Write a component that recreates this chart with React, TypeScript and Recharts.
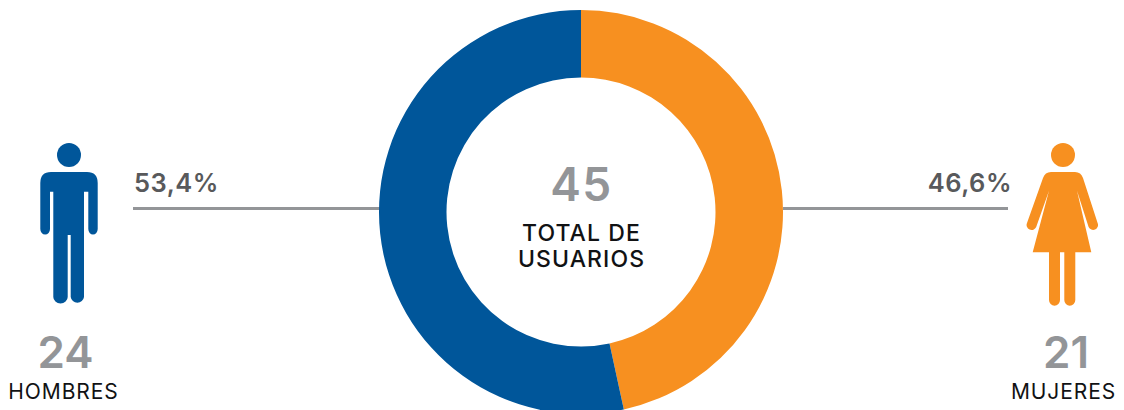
import { PieChart, Pie, Cell } from "recharts";

const genders = ["MUJERES", "HOMBRES"];
const shares = [46.6, 53.4];
const shareLabels = ["46,6%", "53,4%"];
const counts = [21, 24];
const total = 45;
const colors = ["#f79020", "#00569a"];

const FONT = "Inter, 'Open Sans', sans-serif";
const GREY = "#939598";
const DARK_GREY = "#58595b";
const BLACK = "#111214";

const slices = genders.map((name, i) => ({ name, value: shares[i] }));

const ManIcon = () => (
  <g fill={colors[1]}>
    <circle cx={69} cy={155} r={12} />
    <path d="M51 172 H87 Q97.7 172 97.7 183 V229 A4.7 5.5 0 0 1 88.3 229 V191.7 H84 V297 A6.7 6.5 0 0 1 70.7 297 V235 H67.7 V297 A7.2 6.5 0 0 1 53.3 297 V191.7 H50 V229 A4.85 5.5 0 0 1 40.3 229 V183 Q40.3 172 51 172 Z" />
  </g>
);

const WomanIcon = () => (
  <g fill={colors[0]}>
    <circle cx={1063} cy={155} r={12} />
    <path d="M1051 172 H1075 Q1081 172 1083 178 L1097.6 223 A4.8 4.8 0 0 1 1088.6 227 L1077 190.7 L1091.3 252.3 H1075.3 V300 A5.5 5.7 0 0 1 1064.3 300 V252.3 H1060 V300 A5.5 5.7 0 0 1 1049 300 V252.3 H1032.7 L1049 190.7 L1036.2 227 A4.8 4.8 0 0 1 1027 223 L1043 178 Q1045 172 1051 172 Z" />
  </g>
);

export default function App() {
  return (
    <div style={{ position: "absolute", left: 0, top: 0, background: "#fff" }}>
      <PieChart width={1124} height={410} margin={{ top: 0, right: 0, bottom: 0, left: 0 }}>
        <line x1={133} x2={380} y1={208.5} y2={208.5} stroke={GREY} strokeWidth={3} />
        <line x1={783} x2={1008} y1={208.5} y2={208.5} stroke={GREY} strokeWidth={3} />
        <Pie
          data={slices}
          dataKey="value"
          nameKey="name"
          cx={581}
          cy={212}
          innerRadius={134.5}
          outerRadius={202}
          startAngle={90}
          endAngle={-270}
          stroke="none"
          isAnimationActive={false}
        >
          {slices.map((s, i) => (
            <Cell key={s.name} fill={colors[i]} />
          ))}
        </Pie>

        <ManIcon />
        <WomanIcon />

        <g fontFamily={FONT}>
          <text x={134} y={192} fontSize={25.5} fontWeight={600} letterSpacing={0.5} fill={DARK_GREY}>{shareLabels[1]}</text>
          <text x={1012} y={192} fontSize={25.5} fontWeight={600} letterSpacing={0.5} textAnchor="end" fill={DARK_GREY}>{shareLabels[0]}</text>

          <text x={581.5} y={201} fontSize={46} fontWeight={600} letterSpacing={1.5} textAnchor="middle" fill={GREY}>{total}</text>
          <text x={581.5} y={241} fontSize={23} fontWeight={500} letterSpacing={1.1} textAnchor="middle" fill={BLACK}>TOTAL DE</text>
          <text x={581.5} y={267} fontSize={23} fontWeight={500} letterSpacing={1.1} textAnchor="middle" fill={BLACK}>USUARIOS</text>

          <text x={65.5} y={368} fontSize={44} fontWeight={600} textAnchor="middle" fill={GREY}>{counts[1]}</text>
          <text x={63.5} y={399} fontSize={21} fontWeight={400} letterSpacing={0.9} textAnchor="middle" fill={BLACK}>{genders[1]}</text>

          <text x={1066} y={368} fontSize={44} fontWeight={600} textAnchor="middle" fill={GREY}>{counts[0]}</text>
          <text x={1063.5} y={399} fontSize={21} fontWeight={400} letterSpacing={0.9} textAnchor="middle" fill={BLACK}>{genders[0]}</text>
        </g>
      </PieChart>
    </div>
  );
}
